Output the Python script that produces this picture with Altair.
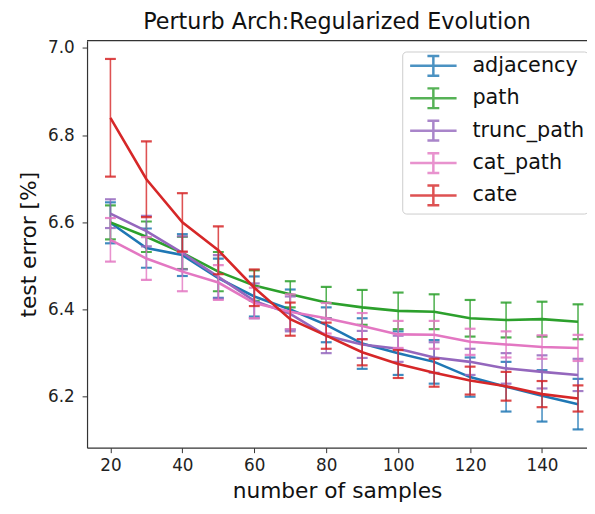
import altair as alt
import pandas as pd

samples = [20, 30, 40, 50, 60, 70, 80, 90, 100, 110, 120, 130, 140, 150]
names = ["adjacency", "path", "trunc_path", "cat_path", "cate"]
colors = ["#1f77b4", "#2ca02c", "#9467bd", "#e377c2", "#d62728"]

adjacency_mean = [6.599, 6.541, 6.525, 6.472, 6.430, 6.400, 6.365, 6.322, 6.300, 6.280, 6.245, 6.223, 6.202, 6.183]
adjacency_err = [0.047, 0.045, 0.048, 0.045, 0.046, 0.046, 0.040, 0.058, 0.050, 0.050, 0.045, 0.057, 0.059, 0.058]

path_mean = [6.600, 6.567, 6.530, 6.487, 6.455, 6.435, 6.416, 6.405, 6.397, 6.395, 6.380, 6.376, 6.378, 6.372]
path_err = [0.039, 0.035, 0.037, 0.045, 0.035, 0.030, 0.036, 0.040, 0.042, 0.040, 0.042, 0.040, 0.040, 0.040]

trunc_path_mean = [6.620, 6.580, 6.530, 6.475, 6.420, 6.390, 6.340, 6.320, 6.310, 6.290, 6.280, 6.265, 6.257, 6.250]
trunc_path_err = [0.033, 0.035, 0.038, 0.050, 0.040, 0.040, 0.040, 0.031, 0.030, 0.035, 0.030, 0.035, 0.038, 0.037]

cat_path_mean = [6.560, 6.517, 6.487, 6.462, 6.415, 6.395, 6.380, 6.362, 6.343, 6.342, 6.326, 6.320, 6.314, 6.312]
cat_path_err = [0.050, 0.049, 0.045, 0.040, 0.035, 0.040, 0.035, 0.030, 0.031, 0.032, 0.030, 0.030, 0.027, 0.030]

cate_mean = [6.840, 6.699, 6.600, 6.536, 6.450, 6.378, 6.340, 6.302, 6.275, 6.255, 6.237, 6.224, 6.206, 6.196]
cate_err = [0.135, 0.087, 0.067, 0.055, 0.042, 0.038, 0.030, 0.030, 0.032, 0.032, 0.032, 0.033, 0.030, 0.030]

series = {
    "adjacency": (adjacency_mean, adjacency_err),
    "path": (path_mean, path_err),
    "trunc_path": (trunc_path_mean, trunc_path_err),
    "cat_path": (cat_path_mean, cat_path_err),
    "cate": (cate_mean, cate_err),
}

W, H = 506, 412
xscale = alt.Scale(domain=[13.5, 152.5], nice=False, zero=False)
yscale = alt.Scale(domain=[6.083, 7.017], nice=False, zero=False)
cscale = alt.Scale(domain=names, range=colors)

legend_symbol = "M-2.35,0H2.35M0,-1V1M-0.6,-1H0.6M-0.6,1H0.6"

layers = []
for i, name in enumerate(names):
    m, e = series[name]
    df = pd.DataFrame({
        "series": name,
        "samples": samples,
        "mean": m,
        "lo": [a - b for a, b in zip(m, e)],
        "hi": [a + b for a, b in zip(m, e)],
    })
    base = alt.Chart(df)
    color = alt.Color(
        "series:N", scale=cscale,
        legend=alt.Legend(
            title=None, orient="none", legendX=319, legendY=11,
            symbolType=legend_symbol, symbolSize=400, symbolStrokeWidth=2.5,
            symbolFillColor="transparent", symbolOffset=17,
            labelFontSize=21, labelFont="DejaVu Sans", labelColor="#111",
            labelOffset=28, rowPadding=1.8, padding=3,
            fillColor="white", strokeColor="#cccccc", cornerRadius=4,
        ) if i == 0 else alt.Legend(title=None),
    )
    bars = base.mark_rule(strokeWidth=1.6, opacity=0.8).encode(
        x=alt.X("samples:Q", scale=xscale),
        y=alt.Y("lo:Q", scale=yscale),
        y2="hi:Q",
        color=color,
    )
    cap_lo = base.mark_tick(orient="horizontal", size=11, thickness=2.2, opacity=0.85).encode(
        x=alt.X("samples:Q", scale=xscale),
        y=alt.Y("lo:Q", scale=yscale),
        color=color,
    )
    cap_hi = base.mark_tick(orient="horizontal", size=11, thickness=2.2, opacity=0.85).encode(
        x=alt.X("samples:Q", scale=xscale),
        y=alt.Y("hi:Q", scale=yscale),
        color=color,
    )
    line = base.mark_line(strokeWidth=2.6).encode(
        x=alt.X("samples:Q", scale=xscale,
                axis=alt.Axis(title="number of samples", values=[20, 40, 60, 80, 100, 120, 140])),
        y=alt.Y("mean:Q", scale=yscale,
                axis=alt.Axis(title="test error [%]", values=[6.2, 6.4, 6.6, 6.8, 7.0], format=".1f")),
        color=color,
    )
    layers += [bars, cap_lo, cap_hi, line]

top_border = alt.Chart(pd.DataFrame({"k": [0]})).mark_rule(color="#333333", strokeWidth=1.2).encode(
    x=alt.value(0), x2=alt.value(W), y=alt.value(0)
)
layers.append(top_border)

chart = alt.layer(*layers).properties(
    width=W, height=H,
    title=alt.TitleParams("Perturb Arch:Regularized Evolution", fontSize=22.5, fontWeight="normal",
                          font="DejaVu Sans", color="#111", offset=6, anchor="middle"),
    autosize=alt.AutoSizeParams(type="none"),
    padding={"left": 80, "top": 30, "right": 0, "bottom": 60},
).configure_view(stroke=None).configure_axis(
    grid=False, domainColor="#333333", tickColor="#333333", domainWidth=1.2,
    labelFont="DejaVu Sans", labelFontSize=17, labelColor="#222222",
    titleFont="DejaVu Sans", titleFontSize=22, titleFontWeight="normal", titleColor="#111111",
    tickSize=5,
).configure_axisY(labelPadding=8, titlePadding=7).configure_axisX(labelPadding=5, titlePadding=7)

chart.save("out.html", embed_options={"renderer": "svg", "actions": False})
